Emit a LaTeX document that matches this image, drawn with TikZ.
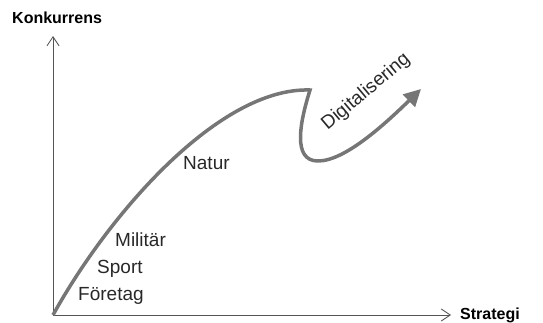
\documentclass[tikz,border=0pt]{standalone}
\usepackage{fontspec}
\setmainfont{Liberation Sans}
\usetikzlibrary{arrows.meta}
\pgfdeclarelayer{edgelayer}
\pgfdeclarelayer{nodelayer}
\pgfsetlayers{edgelayer,nodelayer,main}
\definecolor{axisgray}{RGB}{85,85,85}
\definecolor{curvegray}{RGB}{118,118,118}
\definecolor{textgray}{RGB}{40,40,40}
\tikzstyle{none}=[inner sep=0pt]
\tikzstyle{axislabel}=[inner sep=0pt,anchor=base west,font=\fontsize{16}{18}\selectfont\bfseries,text=black]
\tikzstyle{field}=[inner sep=0pt,anchor=base west,font=\fontsize{19}{22}\selectfont,text=textgray]
\tikzstyle{axis}=[-{Straight Barb[length=9pt,width=12pt]},draw=axisgray,line width=0.9pt]
\tikzstyle{trend}=[draw=curvegray,line width=3.5pt,line join=miter]
\tikzstyle{leap}=[-{Triangle[length=17pt,width=17pt]},draw=curvegray,line width=3.5pt]

\begin{document}
\begin{tikzpicture}[x=1pt,y=1pt]
	\useasboundingbox (0,0) rectangle (543,322);
	\begin{pgfonlayer}{nodelayer}
		\coordinate (0) at (53, 7);
		\coordinate (1) at (53, 286);
		\coordinate (2) at (451, 7);
		\coordinate (3) at (310, 232);
		\coordinate (4) at (318, 161);
		\coordinate (5) at (421, 233);
		\node [style=axislabel] (6) at (12, 298) {Konkurrens};
		\node [style=axislabel] (7) at (460, 3) {Strategi};
		\node [style=field] (8) at (78, 22) {Företag};
		\node [style=field] (9) at (97, 49) {Sport};
		\node [style=field] (10) at (115, 76) {Militär};
		\node [style=field] (11) at (183, 153) {Natur};
		\node [style=field, anchor=center, rotate=40] (12) at (366, 230) {Digitalisering};
	\end{pgfonlayer}
	\begin{pgfonlayer}{edgelayer}
		\draw [style=axis] (0) to (1);
		\draw [style=axis] (0) to (2);
		\draw [style=trend] (0) .. controls (110, 110) and (220, 235) .. (3)
			.. controls (300, 200) and (292, 161) .. (4);
		\draw [style=leap] (4) .. controls (345, 161) and (385, 198) .. (5);
	\end{pgfonlayer}
\end{tikzpicture}
\end{document}
